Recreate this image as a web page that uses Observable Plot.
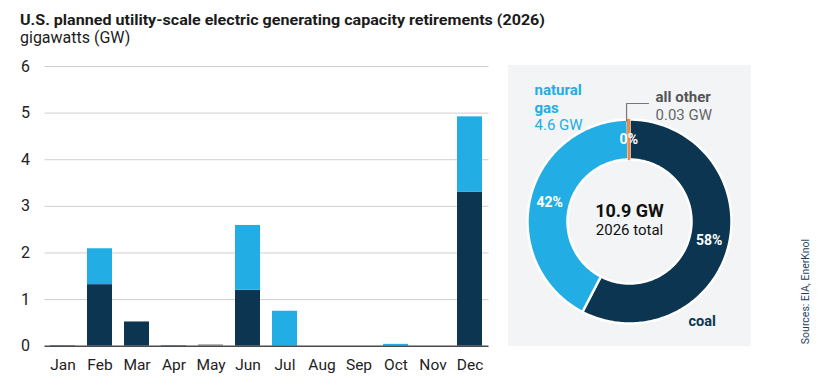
<!DOCTYPE html>
<html><head><meta charset="utf-8">
<script src="https://cdn.jsdelivr.net/npm/d3@7"></script>
<script src="https://cdn.jsdelivr.net/npm/@observablehq/plot@0.6"></script>
<style>
body{margin:0;background:#fff;font-family:Roboto,"Noto Sans",sans-serif;}
#wrap{position:relative;width:827px;height:389px;overflow:hidden;background:#fff;}
#bars{position:absolute;left:0;top:0;}
#donut{position:absolute;left:508px;top:65px;}
#title{position:absolute;left:20px;top:12.6px;line-height:14px;font-size:15.5px;font-weight:700;color:#1b1b1b;white-space:nowrap;transform-origin:0 0;}
#sub{position:absolute;left:20px;top:29.6px;line-height:15px;font-size:16px;color:#1b1b1b;white-space:nowrap;}
#src{position:absolute;left:745px;top:285px;width:120px;text-align:center;font-size:10.5px;color:#1d3f5e;transform:rotate(-90deg);transform-origin:50% 50%;white-space:nowrap;}
</style></head>
<body>
<div id="wrap">
  <div id="bars"></div>
  <div id="donut"></div>
  <div id="title">U.S. planned utility-scale electric generating capacity retirements (2026)</div>
  <div id="sub">gigawatts (GW)</div>
  <div id="src">Sources: EIA, EnerKnol</div>
</div>
<script>
// ---- data ----
const months = ["Jan","Feb","Mar","Apr","May","Jun","Jul","Aug","Sep","Oct","Nov","Dec"];
const coalGW  = [0.01, 1.32, 0.52, 0.01, 0,    1.20, 0,    0, 0, 0,    0, 3.30];
const gasGW   = [0,    0.77, 0,    0,    0,    1.39, 0.75, 0, 0, 0.04, 0, 1.62];
const otherGW = [0,    0,    0,    0,    0.03, 0,    0,    0, 0, 0,    0, 0];
const yTicks = [0,1,2,3,4,5,6];

const donutNames = ["coal","natural gas","all other"];
const donutGW = [6.3, 4.6, 0.03];

const seriesNames = ["coal","natural gas","all other"];
const seriesColors = ["#0b3551","#22aee4","#9a9a9a"];
const donutColors = ["#0b3551","#22aee4","#f0883e"];

// ---- bar chart ----
const rows = [];
months.forEach((m,i)=>{
  rows.push({month:m, series:"coal", value:coalGW[i]});
  rows.push({month:m, series:"natural gas", value:gasGW[i]});
  rows.push({month:m, series:"all other", value:otherGW[i]});
});

const bars = Plot.plot({
  width: 500, height: 389,
  marginTop: 66, marginBottom: 43.3, marginLeft: 44.5, marginRight: 11.5,
  style: {fontFamily: "Roboto, sans-serif", color: "#222", background: "transparent"},
  x: {domain: months, paddingInner: 0.32, paddingOuter: 0.16, label: null},
  y: {domain: [0,6], label: null},
  color: {domain: seriesNames, range: seriesColors},
  marks: [
    Plot.gridY(yTicks.filter(d=>d>0), {stroke:"#cfcfcf", strokeOpacity:1, strokeWidth:1}),
    Plot.barY(rows, {x:"month", y:"value", fill:"series"}),
    Plot.ruleY([0], {stroke:"#4a4a4a", strokeWidth:1.5}),
    Plot.axisY(yTicks, {tickSize:0, tickPadding:15, fontSize:16, label:null}),
    Plot.axisX({tickSize:0, tickPadding:13, fontSize:15.5, label:null})
  ]
});
document.getElementById("bars").appendChild(bars);

// ---- donut ----
const total = d3.sum(donutGW);
const donutRows = donutNames.map((n,i)=>({name:n, gw:donutGW[i]}));
const arcs = d3.pie().sort(null).value(d=>d.gw)(donutRows);
const rIn = 62/102, rOut = 1;
const poly = [];
arcs.forEach(a=>{
  const n = Math.max(2, Math.ceil((a.endAngle - a.startAngle)/(Math.PI/180)));
  const pts = [];
  for (let k=0;k<=n;k++){ const t=a.startAngle+(a.endAngle-a.startAngle)*k/n; pts.push([rOut*Math.sin(t), rOut*Math.cos(t)]); }
  for (let k=n;k>=0;k--){ const t=a.startAngle+(a.endAngle-a.startAngle)*k/n; pts.push([rIn*Math.sin(t), rIn*Math.cos(t)]); }
  pts.push(pts[0]);
  pts.forEach(p=>poly.push({name:a.data.name, x:p[0], y:p[1]}));
});
const main = poly.filter(d=>d.name!=="all other");
const other = poly.filter(d=>d.name==="all other");
const labels = arcs.map(a=>{
  const m=(a.startAngle+a.endAngle)/2, r=(rIn+rOut)/2;
  return {x:r*Math.sin(m), y:r*Math.cos(m), text: Math.round(a.data.gw/total*100)+"%"};
});
const otherArc = arcs.find(a=>a.data.name==="all other");
const om = (otherArc.startAngle+otherArc.endAngle)/2;
const leader = [
  {x: Math.sin(om)*1.02 - 0.02, y: 0.985},
  {x: Math.sin(om)*1.02 - 0.02, y: 1.157},
  {x: 0.186, y: 1.157}
];

const tx = (t, o) => Plot.text([t], Object.assign({frameAnchor:"top-left", text:d=>d, lineAnchor:"bottom", textAnchor:"start", fontSize:15}, o));

const donut = Plot.plot({
  width: 243, height: 281,
  marginLeft: 19, marginRight: 20, marginTop: 54, marginBottom: 23,
  style: {fontFamily: "Roboto, sans-serif", background: "#f2f4f5"},
  x: {domain:[-1,1], axis:null},
  y: {domain:[-1,1], axis:null},
  color: {domain: donutNames, range: donutColors},
  marks: [
    Plot.line(main, {x:"x", y:"y", z:"name", fill:"name", stroke:"white", strokeWidth:2.5, curve:"linear"}),
    Plot.line(other, {x:"x", y:"y", z:"name", fill:"name", stroke:"name", strokeWidth:1.6, curve:"linear"}),
    Plot.line(leader, {x:"x", y:"y", stroke:"#777", strokeWidth:1.2}),
    Plot.text(labels, {x:"x", y:"y", text:"text", fill:"white", fontWeight:"bold", fontSize:14}),
    tx("natural", {dx:7, dy:-25, fill:"#22aee4", fontWeight:"bold"}),
    tx("gas", {dx:7, dy:-6.5, fill:"#22aee4", fontWeight:"bold"}),
    tx((4.6).toFixed(1)+" GW", {dx:7, dy:10.3, fill:"#22aee4"}),
    tx("all other", {dx:128, dy:-17.3, fill:"#555", fontWeight:"bold"}),
    tx("0.03 GW", {dx:128, dy:0, fill:"#666"}),
    tx("coal", {dx:161, dy:206.7, fill:"#0b3551", fontWeight:"bold", fontSize:14.5}),
    Plot.text([total.toFixed(1)+" GW"], {x:0, y:0, text:d=>d, dy:-4.3, lineAnchor:"bottom", fontSize:18, fontWeight:"bold", fill:"#111"}),
    Plot.text(["2026 total"], {x:0, y:0, text:d=>d, dy:13, lineAnchor:"bottom", fontSize:15, fill:"#111"})
  ]
});
document.getElementById("donut").appendChild(donut);

// fit title width to reference
const t = document.getElementById("title");
const w = t.getBoundingClientRect().width;
t.style.transform = `scaleX(${525/w})`;
</script>
</body></html>
